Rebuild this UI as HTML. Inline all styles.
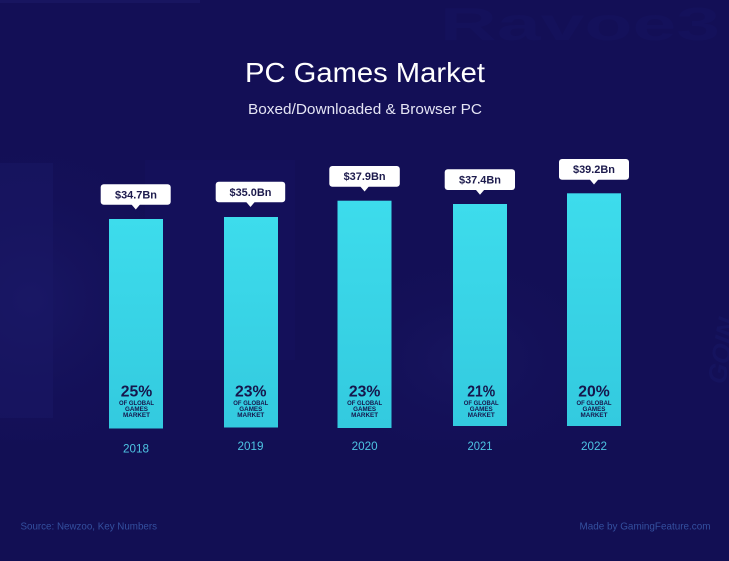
<!DOCTYPE html>
<html>
<head>
<meta charset="utf-8">
<style>
html,body{margin:0;padding:0;background:#130f56;}
svg{display:block;}
text{font-family:"Liberation Sans",sans-serif;}
</style>
</head>
<body>
<svg width="729" height="561" viewBox="0 0 729 561" xmlns="http://www.w3.org/2000/svg">
<defs>
<linearGradient id="bar" x1="0" y1="0" x2="0" y2="1">
<stop offset="0" stop-color="#3ddcec"/>
<stop offset="1" stop-color="#33cadf"/>
</linearGradient>
<radialGradient id="glowL" cx="0.1" cy="0.5" r="0.6">
<stop offset="0" stop-color="#1b1a6a" stop-opacity="0.7"/>
<stop offset="1" stop-color="#130f56" stop-opacity="0"/>
</radialGradient>
<radialGradient id="glowC" cx="0.5" cy="0.5" r="0.5">
<stop offset="0" stop-color="#1a1965" stop-opacity="0.6"/>
<stop offset="1" stop-color="#130f56" stop-opacity="0"/>
</radialGradient>
</defs>
<rect x="0" y="0" width="729" height="561" fill="#130f56"/>
<!-- subtle background texture -->
<rect x="0" y="0" width="200" height="3" fill="#1d1c6a" opacity="0.5"/>
<rect x="0" y="150" width="300" height="300" fill="url(#glowL)"/>
<rect x="0" y="163" width="53" height="255" fill="#191866" opacity="0.5"/>
<rect x="145" y="160" width="150" height="200" fill="#161562" opacity="0.3"/>
<rect x="300" y="240" width="330" height="240" fill="url(#glowC)"/>
<rect x="0" y="440" width="729" height="121" fill="#110e52" opacity="0.4"/>
<text x="440" y="40" font-size="46" font-weight="bold" fill="#17176a" opacity="0.25" textLength="280" lengthAdjust="spacingAndGlyphs">Ravoe3</text>
<text x="0" y="0" font-size="26" font-weight="bold" font-style="italic" fill="#1a1b6c" opacity="0.4" transform="translate(725,385) rotate(-80)">GOIN</text>

<!-- title -->
<text x="365" y="82" font-size="28" fill="#ffffff" text-anchor="middle" textLength="240" lengthAdjust="spacingAndGlyphs">PC Games Market</text>
<text x="365" y="114" font-size="15" fill="#e4e4f4" text-anchor="middle" textLength="234" lengthAdjust="spacingAndGlyphs">Boxed/Downloaded &amp; Browser PC</text>

<!-- bars -->
<rect x="109" y="219" width="54" height="209.5" fill="url(#bar)"/>
<rect x="224" y="217" width="54" height="210.5" fill="url(#bar)"/>
<rect x="337.5" y="200.7" width="54" height="227.3" fill="url(#bar)"/>
<rect x="453" y="204" width="54" height="222" fill="url(#bar)"/>
<rect x="567" y="193.3" width="54" height="232.7" fill="url(#bar)"/>

<!-- value labels -->
<g fill="#ffffff">
<rect x="100.7" y="184.3" width="70" height="20.5" rx="3"/>
<polygon points="131.5,204.5 140,204.5 135.8,209.5"/>
<rect x="215.7" y="181.7" width="69.5" height="20.6" rx="3"/>
<polygon points="246.2,202 254.7,202 250.5,207"/>
<rect x="329.3" y="166" width="70.5" height="20.7" rx="3"/>
<polygon points="360.3,186.5 368.8,186.5 364.6,191.5"/>
<rect x="444.7" y="169.3" width="70.3" height="20.7" rx="3"/>
<polygon points="475.8,189.8 484.3,189.8 480,194.8"/>
<rect x="559" y="159" width="70" height="20.7" rx="3"/>
<polygon points="589.8,179.5 598.3,179.5 594,184.5"/>
</g>
<g font-size="11" font-weight="bold" fill="#1c1a4c" text-anchor="middle">
<text x="136" y="198.4" textLength="42" lengthAdjust="spacingAndGlyphs">$34.7Bn</text>
<text x="250.5" y="195.8" textLength="42" lengthAdjust="spacingAndGlyphs">$35.0Bn</text>
<text x="364.6" y="180.2" textLength="42" lengthAdjust="spacingAndGlyphs">$37.9Bn</text>
<text x="480" y="183.5" textLength="42" lengthAdjust="spacingAndGlyphs">$37.4Bn</text>
<text x="594" y="173" textLength="42" lengthAdjust="spacingAndGlyphs">$39.2Bn</text>
</g>

<!-- percentages -->
<g fill="#16164c" text-anchor="middle" font-weight="bold">
<g transform="translate(136.5,0)">
<text x="0" y="396.7" font-size="16" textLength="31.5" lengthAdjust="spacingAndGlyphs">25%</text>
<text x="0" y="404.8" font-size="6" textLength="35" lengthAdjust="spacingAndGlyphs">OF GLOBAL</text>
<text x="0" y="410.8" font-size="6" textLength="23" lengthAdjust="spacingAndGlyphs">GAMES</text>
<text x="0" y="417" font-size="6" textLength="27" lengthAdjust="spacingAndGlyphs">MARKET</text>
</g>
<g transform="translate(250.8,0)">
<text x="0" y="396.7" font-size="16" textLength="31.5" lengthAdjust="spacingAndGlyphs">23%</text>
<text x="0" y="404.8" font-size="6" textLength="35" lengthAdjust="spacingAndGlyphs">OF GLOBAL</text>
<text x="0" y="410.8" font-size="6" textLength="23" lengthAdjust="spacingAndGlyphs">GAMES</text>
<text x="0" y="417" font-size="6" textLength="27" lengthAdjust="spacingAndGlyphs">MARKET</text>
</g>
<g transform="translate(364.6,0)">
<text x="0" y="396.7" font-size="16" textLength="31.5" lengthAdjust="spacingAndGlyphs">23%</text>
<text x="0" y="404.8" font-size="6" textLength="35" lengthAdjust="spacingAndGlyphs">OF GLOBAL</text>
<text x="0" y="410.8" font-size="6" textLength="23" lengthAdjust="spacingAndGlyphs">GAMES</text>
<text x="0" y="417" font-size="6" textLength="27" lengthAdjust="spacingAndGlyphs">MARKET</text>
</g>
<g transform="translate(481.2,0)">
<text x="0" y="396.7" font-size="16" textLength="28" lengthAdjust="spacingAndGlyphs">21%</text>
<text x="0" y="404.8" font-size="6" textLength="35" lengthAdjust="spacingAndGlyphs">OF GLOBAL</text>
<text x="0" y="410.8" font-size="6" textLength="23" lengthAdjust="spacingAndGlyphs">GAMES</text>
<text x="0" y="417" font-size="6" textLength="27" lengthAdjust="spacingAndGlyphs">MARKET</text>
</g>
<g transform="translate(594,0)">
<text x="0" y="396.7" font-size="16" textLength="31.5" lengthAdjust="spacingAndGlyphs">20%</text>
<text x="0" y="404.8" font-size="6" textLength="35" lengthAdjust="spacingAndGlyphs">OF GLOBAL</text>
<text x="0" y="410.8" font-size="6" textLength="23" lengthAdjust="spacingAndGlyphs">GAMES</text>
<text x="0" y="417" font-size="6" textLength="27" lengthAdjust="spacingAndGlyphs">MARKET</text>
</g>
</g>

<!-- years -->
<g font-size="12" fill="#4ec3e2" text-anchor="middle">
<text x="136" y="452.3" textLength="26" lengthAdjust="spacingAndGlyphs">2018</text>
<text x="250.5" y="450" textLength="26" lengthAdjust="spacingAndGlyphs">2019</text>
<text x="364.6" y="450" textLength="26" lengthAdjust="spacingAndGlyphs">2020</text>
<text x="480" y="450" textLength="25" lengthAdjust="spacingAndGlyphs">2021</text>
<text x="594" y="450" textLength="26" lengthAdjust="spacingAndGlyphs">2022</text>
</g>

<!-- footer -->
<text x="20.5" y="529.5" font-size="10.5" fill="#34509f" textLength="136.5" lengthAdjust="spacingAndGlyphs">Source: Newzoo, Key Numbers</text>
<text x="579.5" y="529.5" font-size="10.5" fill="#34509f" textLength="131" lengthAdjust="spacingAndGlyphs">Made by GamingFeature.com</text>
</svg>
</body>
</html>
